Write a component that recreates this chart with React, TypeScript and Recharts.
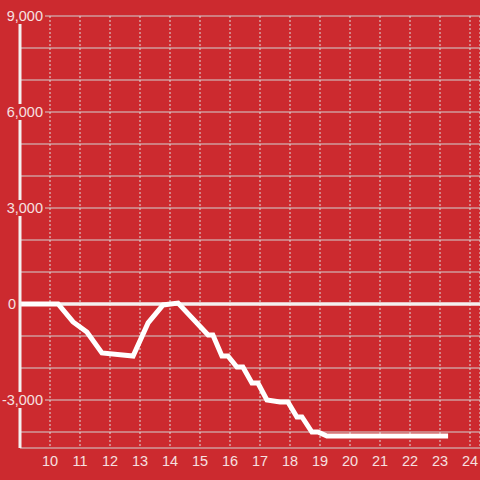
import React from "react";
import { LineChart, Line, XAxis, YAxis, CartesianGrid, ReferenceLine } from "recharts";

const hours = [9.0, 10.27, 10.77, 11.23, 11.73, 12.77, 13.27, 13.77, 14.27, 15.27, 15.43, 15.73, 15.93, 16.23, 16.43, 16.73, 16.93, 17.23, 17.67, 17.93, 18.23, 18.4, 18.73, 18.93, 19.23, 23.27];
const values = [0, 0, -560, -875, -1530, -1625, -590, -30, 30, -970, -970, -1625, -1625, -1970, -1970, -2470, -2470, -3000, -3060, -3060, -3530, -3530, -4000, -4000, -4125, -4125];
const xTicks = [10, 11, 12, 13, 14, 15, 16, 17, 18, 19, 20, 21, 22, 23, 24];
const yTicks = [-4000, -3000, -2000, -1000, 0, 1000, 2000, 3000, 4000, 5000, 6000, 7000, 8000, 9000];
const yLabelled = [9000, 6000, 3000, 0, -3000];

const data = hours.map((h, i) => ({ h, v: values[i] }));

const BG = "#cc2a2f";
const TEXT = "#f6e0e0";
const FONT = "'Liberation Sans', Arial, sans-serif";

const fmt = (v: number) => v.toLocaleString("en-US");

const YTick = (props: any) => {
  const { y, payload } = props;
  const v = payload.value;
  if (!yLabelled.includes(v)) return <g />;
  const label = fmt(v);
  if (v === 0) {
    return (
      <text x={16} y={y} dy={5} textAnchor="end" fill={TEXT} fontSize={14.5} fontFamily={FONT}>
        {label}
      </text>
    );
  }
  const w = label.length * 7.4 + 4;
  return (
    <g>
      <rect x={45 - w} y={y - 8} width={w} height={16} fill={BG} />
      <text x={43} y={y} dy={5} textAnchor="end" fill={TEXT} fontSize={14.5} fontFamily={FONT}>
        {label}
      </text>
    </g>
  );
};

const XTick = (props: any) => {
  const { x, payload } = props;
  return (
    <text x={x} y={466} textAnchor="middle" fill={TEXT} fontSize={14.5} fontFamily={FONT}>
      {payload.value}
    </text>
  );
};

export default function App() {
  return (
    <div style={{ position: "absolute", left: 0, top: 0, width: 480, height: 480, background: BG }}>
      <LineChart width={480} height={480} data={data} margin={{ top: 16, right: 0, bottom: 0, left: 18 }}>
        <CartesianGrid horizontal={true} vertical={false} stroke="#d2d2d2" strokeWidth={1} />
        <CartesianGrid horizontal={false} vertical={true} stroke="#dedede" strokeDasharray="2 2" strokeWidth={1} />
        <XAxis
          dataKey="h"
          type="number"
          domain={[9, 24 + 1 / 3]}
          ticks={xTicks}
          interval={0}
          axisLine={false}
          tickLine={false}
          height={32}
          tick={<XTick />}
          allowDataOverflow
        />
        <ReferenceLine y={0} stroke="#f4f0f0" strokeWidth={3.5} />
        <Line
          dataKey="v"
          type="linear"
          stroke="#ffffff"
          strokeWidth={5}
          dot={false}
          isAnimationActive={false}
        />
        <YAxis
          type="number"
          domain={[-4500, 9000]}
          ticks={yTicks}
          interval={0}
          width={2}
          axisLine={{ stroke: "#f4f0f0", strokeWidth: 3 }}
          tickLine={false}
          tick={<YTick />}
          allowDataOverflow
        />
      </LineChart>
    </div>
  );
}
